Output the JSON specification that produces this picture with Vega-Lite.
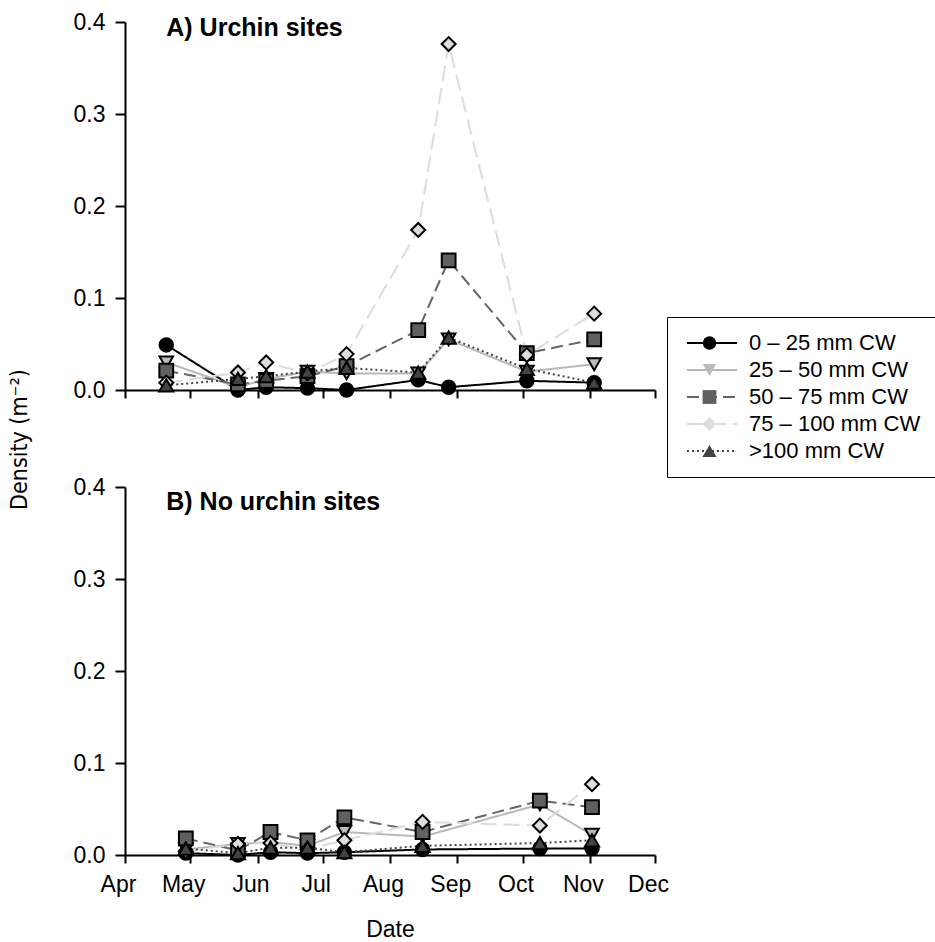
{
  "$schema": "https://vega.github.io/schema/vega-lite/v6.json",
  "padding": {"left": 8, "top": 11, "right": 0, "bottom": 0},
  "bounds": "flush",
  "spacing": 97,
  "config": {
    "view": {"stroke": null},
    "font": "Liberation Sans",
    "axis": {
      "grid": false, "domainColor": "black", "domainWidth": 2, "tickColor": "black", "tickWidth": 2,
      "labelColor": "black", "labelFontSize": 23, "labelFont": "Liberation Sans",
      "titleColor": "black", "titleFontWeight": "normal", "titleFontSize": 23, "titleFont": "Liberation Sans",
      "labelOverlap": false, "labelFlush": false, "labelBound": false
    }
  },
  "datasets": {
    "pts": [
      {"site": "A", "date": "2005-04-20", "cls": "0 – 25 mm CW", "d": 0.049},
      {"site": "A", "date": "2005-05-23", "cls": "0 – 25 mm CW", "d": 0.000},
      {"site": "A", "date": "2005-06-05", "cls": "0 – 25 mm CW", "d": 0.003},
      {"site": "A", "date": "2005-06-24", "cls": "0 – 25 mm CW", "d": 0.002},
      {"site": "A", "date": "2005-07-12", "cls": "0 – 25 mm CW", "d": 0.000},
      {"site": "A", "date": "2005-08-14", "cls": "0 – 25 mm CW", "d": 0.011},
      {"site": "A", "date": "2005-08-28", "cls": "0 – 25 mm CW", "d": 0.003},
      {"site": "A", "date": "2005-10-03", "cls": "0 – 25 mm CW", "d": 0.010},
      {"site": "A", "date": "2005-11-03", "cls": "0 – 25 mm CW", "d": 0.008},
      {"site": "A", "date": "2005-04-20", "cls": "25 – 50 mm CW", "d": 0.030},
      {"site": "A", "date": "2005-05-23", "cls": "25 – 50 mm CW", "d": 0.003},
      {"site": "A", "date": "2005-06-05", "cls": "25 – 50 mm CW", "d": 0.012},
      {"site": "A", "date": "2005-06-24", "cls": "25 – 50 mm CW", "d": 0.020},
      {"site": "A", "date": "2005-07-12", "cls": "25 – 50 mm CW", "d": 0.018},
      {"site": "A", "date": "2005-08-14", "cls": "25 – 50 mm CW", "d": 0.018},
      {"site": "A", "date": "2005-08-28", "cls": "25 – 50 mm CW", "d": 0.055},
      {"site": "A", "date": "2005-10-03", "cls": "25 – 50 mm CW", "d": 0.020},
      {"site": "A", "date": "2005-11-03", "cls": "25 – 50 mm CW", "d": 0.028},
      {"site": "A", "date": "2005-04-20", "cls": "50 – 75 mm CW", "d": 0.021},
      {"site": "A", "date": "2005-05-23", "cls": "50 – 75 mm CW", "d": 0.006},
      {"site": "A", "date": "2005-06-05", "cls": "50 – 75 mm CW", "d": 0.010},
      {"site": "A", "date": "2005-06-24", "cls": "50 – 75 mm CW", "d": 0.015},
      {"site": "A", "date": "2005-07-12", "cls": "50 – 75 mm CW", "d": 0.026},
      {"site": "A", "date": "2005-08-14", "cls": "50 – 75 mm CW", "d": 0.065},
      {"site": "A", "date": "2005-08-28", "cls": "50 – 75 mm CW", "d": 0.141},
      {"site": "A", "date": "2005-10-03", "cls": "50 – 75 mm CW", "d": 0.040},
      {"site": "A", "date": "2005-11-03", "cls": "50 – 75 mm CW", "d": 0.055},
      {"site": "A", "date": "2005-04-20", "cls": "75 – 100 mm CW", "d": 0.008},
      {"site": "A", "date": "2005-05-23", "cls": "75 – 100 mm CW", "d": 0.019},
      {"site": "A", "date": "2005-06-05", "cls": "75 – 100 mm CW", "d": 0.030},
      {"site": "A", "date": "2005-06-24", "cls": "75 – 100 mm CW", "d": 0.018},
      {"site": "A", "date": "2005-07-12", "cls": "75 – 100 mm CW", "d": 0.039},
      {"site": "A", "date": "2005-08-14", "cls": "75 – 100 mm CW", "d": 0.174},
      {"site": "A", "date": "2005-08-28", "cls": "75 – 100 mm CW", "d": 0.376},
      {"site": "A", "date": "2005-10-03", "cls": "75 – 100 mm CW", "d": 0.038},
      {"site": "A", "date": "2005-11-03", "cls": "75 – 100 mm CW", "d": 0.083},
      {"site": "A", "date": "2005-04-20", "cls": ">100 mm CW", "d": 0.005},
      {"site": "A", "date": "2005-05-23", "cls": ">100 mm CW", "d": 0.012},
      {"site": "A", "date": "2005-06-05", "cls": ">100 mm CW", "d": 0.015},
      {"site": "A", "date": "2005-06-24", "cls": ">100 mm CW", "d": 0.020},
      {"site": "A", "date": "2005-07-12", "cls": ">100 mm CW", "d": 0.024},
      {"site": "A", "date": "2005-08-14", "cls": ">100 mm CW", "d": 0.019},
      {"site": "A", "date": "2005-08-28", "cls": ">100 mm CW", "d": 0.057},
      {"site": "A", "date": "2005-10-03", "cls": ">100 mm CW", "d": 0.023},
      {"site": "A", "date": "2005-11-03", "cls": ">100 mm CW", "d": 0.008},
      {"site": "B", "date": "2005-04-29", "cls": "0 – 25 mm CW", "d": 0.002},
      {"site": "B", "date": "2005-05-23", "cls": "0 – 25 mm CW", "d": 0.000},
      {"site": "B", "date": "2005-06-07", "cls": "0 – 25 mm CW", "d": 0.003},
      {"site": "B", "date": "2005-06-24", "cls": "0 – 25 mm CW", "d": 0.002},
      {"site": "B", "date": "2005-07-11", "cls": "0 – 25 mm CW", "d": 0.003},
      {"site": "B", "date": "2005-08-16", "cls": "0 – 25 mm CW", "d": 0.006},
      {"site": "B", "date": "2005-10-09", "cls": "0 – 25 mm CW", "d": 0.007},
      {"site": "B", "date": "2005-11-02", "cls": "0 – 25 mm CW", "d": 0.007},
      {"site": "B", "date": "2005-04-29", "cls": "25 – 50 mm CW", "d": 0.006},
      {"site": "B", "date": "2005-05-23", "cls": "25 – 50 mm CW", "d": 0.012},
      {"site": "B", "date": "2005-06-07", "cls": "25 – 50 mm CW", "d": 0.014},
      {"site": "B", "date": "2005-06-24", "cls": "25 – 50 mm CW", "d": 0.010},
      {"site": "B", "date": "2005-07-11", "cls": "25 – 50 mm CW", "d": 0.025},
      {"site": "B", "date": "2005-08-16", "cls": "25 – 50 mm CW", "d": 0.020},
      {"site": "B", "date": "2005-10-09", "cls": "25 – 50 mm CW", "d": 0.055},
      {"site": "B", "date": "2005-11-02", "cls": "25 – 50 mm CW", "d": 0.022},
      {"site": "B", "date": "2005-04-29", "cls": "50 – 75 mm CW", "d": 0.018},
      {"site": "B", "date": "2005-05-23", "cls": "50 – 75 mm CW", "d": 0.005},
      {"site": "B", "date": "2005-06-07", "cls": "50 – 75 mm CW", "d": 0.025},
      {"site": "B", "date": "2005-06-24", "cls": "50 – 75 mm CW", "d": 0.016},
      {"site": "B", "date": "2005-07-11", "cls": "50 – 75 mm CW", "d": 0.041},
      {"site": "B", "date": "2005-08-16", "cls": "50 – 75 mm CW", "d": 0.025},
      {"site": "B", "date": "2005-10-09", "cls": "50 – 75 mm CW", "d": 0.059},
      {"site": "B", "date": "2005-11-02", "cls": "50 – 75 mm CW", "d": 0.052},
      {"site": "B", "date": "2005-04-29", "cls": "75 – 100 mm CW", "d": 0.004},
      {"site": "B", "date": "2005-05-23", "cls": "75 – 100 mm CW", "d": 0.012},
      {"site": "B", "date": "2005-06-07", "cls": "75 – 100 mm CW", "d": 0.013},
      {"site": "B", "date": "2005-06-24", "cls": "75 – 100 mm CW", "d": 0.006},
      {"site": "B", "date": "2005-07-11", "cls": "75 – 100 mm CW", "d": 0.016},
      {"site": "B", "date": "2005-08-16", "cls": "75 – 100 mm CW", "d": 0.036},
      {"site": "B", "date": "2005-10-09", "cls": "75 – 100 mm CW", "d": 0.032},
      {"site": "B", "date": "2005-11-02", "cls": "75 – 100 mm CW", "d": 0.077},
      {"site": "B", "date": "2005-04-29", "cls": ">100 mm CW", "d": 0.007},
      {"site": "B", "date": "2005-05-23", "cls": ">100 mm CW", "d": 0.002},
      {"site": "B", "date": "2005-06-07", "cls": ">100 mm CW", "d": 0.008},
      {"site": "B", "date": "2005-06-24", "cls": ">100 mm CW", "d": 0.008},
      {"site": "B", "date": "2005-07-11", "cls": ">100 mm CW", "d": 0.003},
      {"site": "B", "date": "2005-08-16", "cls": ">100 mm CW", "d": 0.010},
      {"site": "B", "date": "2005-10-09", "cls": ">100 mm CW", "d": 0.013},
      {"site": "B", "date": "2005-11-02", "cls": ">100 mm CW", "d": 0.016}
    ]
  },
  "vconcat": [
    {
      "width": 530, "height": 368,
      "data": {"name": "pts"},
      "encoding": {
        "x": {"field": "date", "type": "temporal",
          "scale": {"type": "utc", "nice": false, "domain": [{"year": 2005, "month": 4, "date": 1, "utc": true}, {"year": 2005, "month": 12, "date": 1, "utc": true}]},
          "axis": {"title": null, "labels": false, "tickSize": 8,
            "values": [{"year": 2005, "month": 4, "date": 1, "utc": true}, {"year": 2005, "month": 5, "date": 1, "utc": true}, {"year": 2005, "month": 6, "date": 1, "utc": true}, {"year": 2005, "month": 7, "date": 1, "utc": true}, {"year": 2005, "month": 8, "date": 1, "utc": true}, {"year": 2005, "month": 9, "date": 1, "utc": true}, {"year": 2005, "month": 10, "date": 1, "utc": true}, {"year": 2005, "month": 11, "date": 1, "utc": true}, {"year": 2005, "month": 12, "date": 1, "utc": true}]}},
        "y": {"field": "d", "type": "quantitative", "scale": {"domain": [0, 0.4], "nice": false},
          "axis": {"values": [0, 0.1, 0.2, 0.3, 0.4], "format": ".1f", "tickSize": 10, "labelPadding": 10,
            "title": "Density (m⁻²)", "titleAngle": 270, "titleX": -106, "titleY": 417, "titleAlign": "center", "titleBaseline": "middle", "titleFont": "DejaVu Sans Condensed, Liberation Sans", "titleFontSize": 23}}
      },
      "layer": [
        {"transform": [{"filter": "datum.site == 'A'"}],
          "mark": {"type": "line", "strokeWidth": 2},
          "encoding": {
            "stroke": {"field": "cls", "type": "nominal", "scale": {"range": ["#000000", "#b8b8b8", "#666666", "#dcdcdc", "#444444"]},
              "legend": {"orient": "none", "legendX": 542, "legendY": 295, "title": null, "strokeColor": "black", "padding": 15, "symbolType": "M-3.85,0H3.85", "symbolSize": 169, "symbolStrokeWidth": 2, "symbolOffset": 19, "labelOffset": 26, "labelFontSize": 22, "labelFont": "Liberation Sans", "labelColor": "black", "rowPadding": 5, "labelLimit": 400, "encode": {"legend": {"strokeWidth": {"value": 2}}}}},
            "strokeDash": {"field": "cls", "type": "nominal", "scale": {"range": [[1, 0], [1, 0], [12, 6], [16, 7], [2, 3]]},
              "legend": {"orient": "none", "legendX": 542, "legendY": 295, "title": null, "strokeColor": "black", "padding": 15, "symbolType": "M-3.85,0H3.85", "symbolSize": 169, "symbolStrokeWidth": 2, "symbolOffset": 19, "labelOffset": 26, "labelFontSize": 22, "labelFont": "Liberation Sans", "labelColor": "black", "rowPadding": 5, "labelLimit": 400, "encode": {"legend": {"strokeWidth": {"value": 2}}}}}
          }},
        {"transform": [{"filter": "datum.site == 'A'"}],
          "mark": {"type": "point", "filled": true, "stroke": "black", "strokeWidth": 2, "opacity": 1},
          "encoding": {
            "fill": {"field": "cls", "type": "nominal",
              "scale": {"domain": ["0 – 25 mm CW", "25 – 50 mm CW", "50 – 75 mm CW", "75 – 100 mm CW", ">100 mm CW"], "range": ["#000000", "#bbbbbb", "#606060", "#dddddd", "#444444"]},
              "legend": {"orient": "none", "legendX": 542, "legendY": 295, "title": null, "padding": 15, "symbolStrokeColor": "black", "symbolStrokeWidth": 2, "symbolOffset": 16.5, "labelOffset": 26, "labelExpr": "' '", "labelFontSize": 22, "rowPadding": 5, "encode": {"symbols": {"stroke": {"value": "black"}, "strokeWidth": {"value": 1.5}}}}},
            "shape": {"field": "cls", "type": "nominal",
              "scale": {"domain": ["0 – 25 mm CW", "25 – 50 mm CW", "50 – 75 mm CW", "75 – 100 mm CW", ">100 mm CW"], "range": ["circle", "triangle-down", "square", "diamond", "triangle-up"]},
              "legend": {"orient": "none", "legendX": 542, "legendY": 295, "title": null, "padding": 15, "symbolStrokeColor": "black", "symbolStrokeWidth": 2, "symbolOffset": 16.5, "labelOffset": 26, "labelExpr": "' '", "labelFontSize": 22, "rowPadding": 5, "encode": {"symbols": {"stroke": {"value": "black"}, "strokeWidth": {"value": 1.5}}}}},
            "size": {"field": "cls", "type": "nominal",
              "scale": {"domain": ["0 – 25 mm CW", "25 – 50 mm CW", "50 – 75 mm CW", "75 – 100 mm CW", ">100 mm CW"], "range": [180, 200, 180, 320, 220]},
              "legend": {"orient": "none", "legendX": 542, "legendY": 295, "title": null, "padding": 15, "symbolStrokeColor": "black", "symbolStrokeWidth": 2, "symbolOffset": 16.5, "labelOffset": 26, "labelExpr": "' '", "labelFontSize": 22, "rowPadding": 5, "encode": {"symbols": {"stroke": {"value": "black"}, "strokeWidth": {"value": 1.5}}}}}
          }},
        {"data": {"values": [{"label": "A) Urchin sites", "date": "2005-04-20", "d": 0.385}]},
          "mark": {"type": "text", "align": "left", "baseline": "alphabetic", "fontSize": 25, "fontWeight": "bold", "font": "Liberation Sans", "color": "black"},
          "encoding": {"text": {"field": "label"}}}
      ]
    },
    {
      "width": 530, "height": 368,
      "data": {"name": "pts"},
      "encoding": {
        "x": {"field": "date", "type": "temporal",
          "scale": {"type": "utc", "nice": false, "domain": [{"year": 2005, "month": 4, "date": 1, "utc": true}, {"year": 2005, "month": 12, "date": 1, "utc": true}]},
          "axis": {"title": "Date", "format": "%b", "labelOffset": -7, "tickSize": 8, "labelPadding": 10, "titleY": 81, "titleBaseline": "alphabetic",
            "values": [{"year": 2005, "month": 4, "date": 1, "utc": true}, {"year": 2005, "month": 5, "date": 1, "utc": true}, {"year": 2005, "month": 6, "date": 1, "utc": true}, {"year": 2005, "month": 7, "date": 1, "utc": true}, {"year": 2005, "month": 8, "date": 1, "utc": true}, {"year": 2005, "month": 9, "date": 1, "utc": true}, {"year": 2005, "month": 10, "date": 1, "utc": true}, {"year": 2005, "month": 11, "date": 1, "utc": true}, {"year": 2005, "month": 12, "date": 1, "utc": true}]}},
        "y": {"field": "d", "type": "quantitative", "scale": {"domain": [0, 0.4], "nice": false},
          "axis": {"values": [0, 0.1, 0.2, 0.3, 0.4], "format": ".1f", "tickSize": 10, "labelPadding": 10, "title": null}}
      },
      "layer": [
        {"transform": [{"filter": "datum.site == 'B'"}],
          "mark": {"type": "line", "strokeWidth": 2},
          "encoding": {
            "stroke": {"field": "cls", "type": "nominal", "scale": {"range": ["#000000", "#b8b8b8", "#666666", "#dcdcdc", "#444444"]},
              "legend": {"orient": "none", "legendX": 542, "legendY": 295, "title": null, "strokeColor": "black", "padding": 15, "symbolType": "M-3.85,0H3.85", "symbolSize": 169, "symbolStrokeWidth": 2, "symbolOffset": 19, "labelOffset": 26, "labelFontSize": 22, "labelFont": "Liberation Sans", "labelColor": "black", "rowPadding": 5, "labelLimit": 400, "encode": {"legend": {"strokeWidth": {"value": 2}}}}},
            "strokeDash": {"field": "cls", "type": "nominal", "scale": {"range": [[1, 0], [1, 0], [12, 6], [16, 7], [2, 3]]},
              "legend": {"orient": "none", "legendX": 542, "legendY": 295, "title": null, "strokeColor": "black", "padding": 15, "symbolType": "M-3.85,0H3.85", "symbolSize": 169, "symbolStrokeWidth": 2, "symbolOffset": 19, "labelOffset": 26, "labelFontSize": 22, "labelFont": "Liberation Sans", "labelColor": "black", "rowPadding": 5, "labelLimit": 400, "encode": {"legend": {"strokeWidth": {"value": 2}}}}}
          }},
        {"transform": [{"filter": "datum.site == 'B'"}],
          "mark": {"type": "point", "filled": true, "stroke": "black", "strokeWidth": 2, "opacity": 1},
          "encoding": {
            "fill": {"field": "cls", "type": "nominal",
              "scale": {"domain": ["0 – 25 mm CW", "25 – 50 mm CW", "50 – 75 mm CW", "75 – 100 mm CW", ">100 mm CW"], "range": ["#000000", "#bbbbbb", "#606060", "#dddddd", "#444444"]},
              "legend": {"orient": "none", "legendX": 542, "legendY": 295, "title": null, "padding": 15, "symbolStrokeColor": "black", "symbolStrokeWidth": 2, "symbolOffset": 16.5, "labelOffset": 26, "labelExpr": "' '", "labelFontSize": 22, "rowPadding": 5, "encode": {"symbols": {"stroke": {"value": "black"}, "strokeWidth": {"value": 1.5}}}}},
            "shape": {"field": "cls", "type": "nominal",
              "scale": {"domain": ["0 – 25 mm CW", "25 – 50 mm CW", "50 – 75 mm CW", "75 – 100 mm CW", ">100 mm CW"], "range": ["circle", "triangle-down", "square", "diamond", "triangle-up"]},
              "legend": {"orient": "none", "legendX": 542, "legendY": 295, "title": null, "padding": 15, "symbolStrokeColor": "black", "symbolStrokeWidth": 2, "symbolOffset": 16.5, "labelOffset": 26, "labelExpr": "' '", "labelFontSize": 22, "rowPadding": 5, "encode": {"symbols": {"stroke": {"value": "black"}, "strokeWidth": {"value": 1.5}}}}},
            "size": {"field": "cls", "type": "nominal",
              "scale": {"domain": ["0 – 25 mm CW", "25 – 50 mm CW", "50 – 75 mm CW", "75 – 100 mm CW", ">100 mm CW"], "range": [180, 200, 180, 320, 220]},
              "legend": {"orient": "none", "legendX": 542, "legendY": 295, "title": null, "padding": 15, "symbolStrokeColor": "black", "symbolStrokeWidth": 2, "symbolOffset": 16.5, "labelOffset": 26, "labelExpr": "' '", "labelFontSize": 22, "rowPadding": 5, "encode": {"symbols": {"stroke": {"value": "black"}, "strokeWidth": {"value": 1.5}}}}}
          }},
        {"data": {"values": [{"label": "B) No urchin sites", "date": "2005-04-20", "d": 0.375}]},
          "mark": {"type": "text", "align": "left", "baseline": "alphabetic", "fontSize": 25, "fontWeight": "bold", "font": "Liberation Sans", "color": "black"},
          "encoding": {"text": {"field": "label"}}}
      ]
    }
  ]
}
